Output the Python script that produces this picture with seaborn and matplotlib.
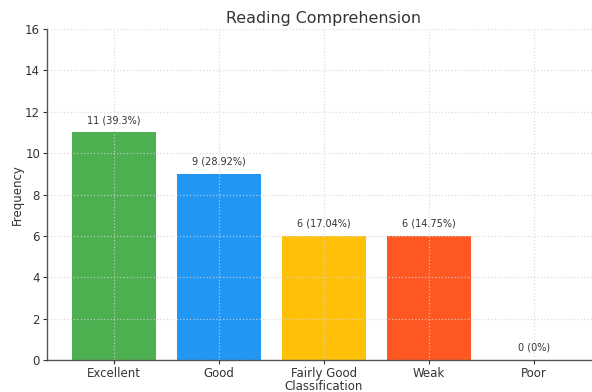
import matplotlib
matplotlib.use("Agg")
import matplotlib.pyplot as plt
import seaborn as sns
import pandas as pd

# data
categories = ["Excellent", "Good", "Fairly Good", "Weak", "Poor"]
frequencies = [11, 9, 6, 6, 0]
percent_labels = ["39.3%", "28.92%", "17.04%", "14.75%", "0%"]
colors = ["#4CAF50", "#2196F3", "#FFC107", "#FF5722", "#9E9E9E"]

df = pd.DataFrame({"Classification": categories, "Frequency": frequencies})

sns.set_style("whitegrid")
plt.rcParams["font.family"] = ["DejaVu Sans"]

fig = plt.figure(figsize=(5.92, 3.92), dpi=100)
# axes run past the right edge like the cropped original
ax = fig.add_axes([47 / 592, 32 / 392, 554 / 592, 331 / 392])

sns.barplot(data=df, x="Classification", y="Frequency", hue="Classification",
            palette=colors, legend=False, width=0.8, ax=ax, saturation=1,
            edgecolor="none")

for i, (f, p) in enumerate(zip(frequencies, percent_labels)):
    ax.text(i, f + 0.35, f"{f} ({p})", ha="center", va="bottom", fontsize=7, color="#333333")

ax.set_xlim(-0.64, 4.64)
ax.set_ylim(0, 16)
ax.set_yticks(range(0, 17, 2))
ax.set_title("Reading Comprehension", fontsize=11.4, color="#333333", pad=4)
ax.set_xlabel("Classification", fontsize=8.5, color="#333333", labelpad=0)
ax.set_ylabel("Frequency", fontsize=8.5, color="#333333", labelpad=1)
ax.tick_params(axis="both", labelsize=8.5, colors="#333333", length=3, pad=2, left=True, bottom=True)
ax.grid(True, axis="both", linestyle=":", color="#d5d5d5", linewidth=0.9, alpha=0.8)
ax.set_axisbelow(False)
for s in ["top", "right"]:
    ax.spines[s].set_visible(False)
for s in ["left", "bottom"]:
    ax.spines[s].set_color("#555555")
    ax.spines[s].set_linewidth(1.0)

fig.savefig("out.png", dpi=100)
